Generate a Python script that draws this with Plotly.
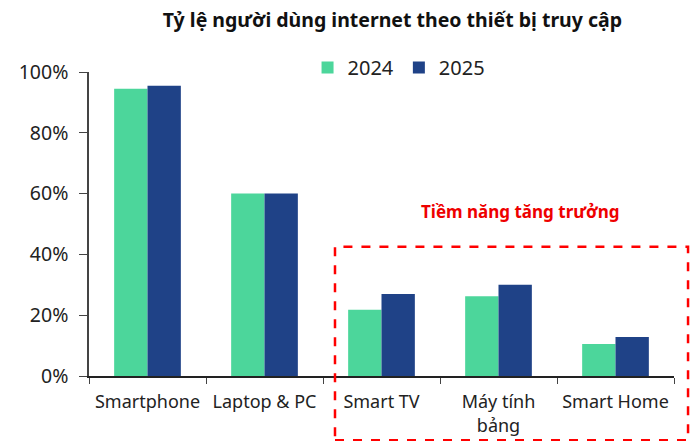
import plotly.graph_objects as go

categories = ["Smartphone", "Laptop & PC", "Smart TV", "Máy tính<br>bảng", "Smart Home"]
values_2024 = [0.945, 0.60, 0.218, 0.262, 0.105]
values_2025 = [0.955, 0.60, 0.270, 0.300, 0.128]
y_ticks = [0, 0.2, 0.4, 0.6, 0.8, 1.0]
y_tick_labels = ["0%", "20%", "40%", "60%", "80%", "100%"]

FONT = "Noto Sans"
fig = go.Figure()
fig.add_trace(go.Bar(name="2024", x=categories, y=values_2024, marker_color="#4CD69B",
                     marker_line_width=0))
fig.add_trace(go.Bar(name="2025", x=categories, y=values_2025, marker_color="#1F4287",
                     marker_line_width=0))

fig.update_layout(
    width=697, height=441,
    margin=dict(l=89, r=23, t=72, b=65, autoexpand=False),
    paper_bgcolor="white", plot_bgcolor="white",
    barmode="group", bargap=0.43, bargroupgap=0,
    font=dict(family=FONT, size=17, color="#222222"),
    title=dict(text="<b>Tỷ lệ người dùng internet theo thiết bị truy cập</b>",
               x=0.563, xanchor="center", y=0.955, yanchor="middle",
               font=dict(family=FONT, size=19.5, color="#111111")),
    legend=dict(orientation="h", x=0.53, xanchor="center", y=1.015, yanchor="middle",
                font=dict(size=20), itemwidth=30, traceorder="normal"),
    showlegend=True,
)
fig.update_yaxes(range=[0, 1], tickvals=y_ticks, ticktext=y_tick_labels, automargin=False,
                 showgrid=False, showline=True, linecolor="#444444", linewidth=1.5,
                 ticks="outside", ticklen=8, tickcolor="#444444", tickfont=dict(size=19.5),
                 ticklabelstandoff=7, zeroline=False)
fig.update_xaxes(showline=True, linecolor="#222222", linewidth=1.5, automargin=False,
                 ticks="outside", tickson="boundaries", ticklen=6, tickcolor="#444444",
                 tickfont=dict(size=18), ticklabelstandoff=9, showgrid=False)

fig.add_shape(type="rect", xref="paper", yref="paper", x0=0.4205, x1=1.024, y0=-0.211, y1=0.425,
              line=dict(color="#FF0000", width=2.5, dash="dash"), fillcolor="rgba(0,0,0,0)")
fig.add_annotation(text="<b>Tiềm năng tăng trưởng</b>", xref="paper", yref="paper",
                   x=0.737, y=0.541, xanchor="center", yanchor="middle", showarrow=False,
                   font=dict(family=FONT, size=17, color="#EE0000"))

fig.write_html("out.html", config={"displayModeBar": False},
               post_script="document.body.style.margin='0';")
